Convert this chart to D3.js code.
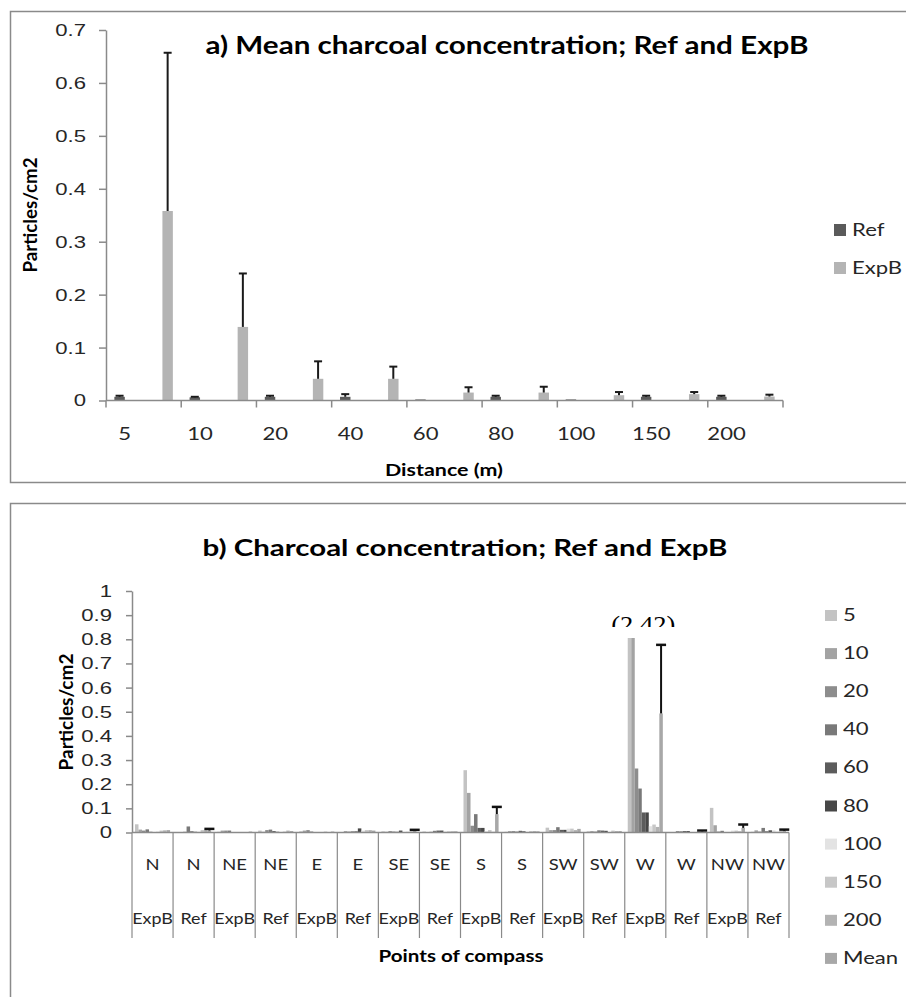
<!DOCTYPE html>
<html>
<head>
<meta charset="utf-8">
<script src="https://cdn.jsdelivr.net/npm/d3@7"></script>
<style>
body { margin: 0; background: #fff; }
svg { display: block; font-family: Lato, "Open Sans", sans-serif; }
</style>
</head>
<body>
<div></div>
<script>
var width = 906;
var height = 997;

// ---- panel a) mean charcoal concentration
var distances = ["5", "10", "20", "40", "60", "80", "100", "150", "200"];
var refMean  = [0.007, 0.006, 0.007, 0.007, 0.002, 0.007, 0.002, 0.007, 0.007];
var refErr   = [0.009, 0.007, 0.009, 0.012, null, 0.009, null, 0.009, 0.009];
var expbMean = [0.358, 0.139, 0.041, 0.041, 0.015, 0.015, 0.010, 0.012, 0.0075];
var expbErr  = [0.657, 0.240, 0.074, 0.064, 0.025, 0.026, 0.016, 0.016, 0.011];
var yTicksA  = [0, 0.1, 0.2, 0.3, 0.4, 0.5, 0.6, 0.7];

// ---- panel b) charcoal concentration per point of compass
var compass = ["N", "N", "NE", "NE", "E", "E", "SE", "SE", "S", "S", "SW", "SW", "W", "W", "NW", "NW"];
var site    = ["ExpB", "Ref", "ExpB", "Ref", "ExpB", "Ref", "ExpB", "Ref", "ExpB", "Ref", "ExpB", "Ref", "ExpB", "Ref", "ExpB", "Ref"];
var seriesB = ["5", "10", "20", "40", "60", "80", "100", "150", "200", "Mean"];
var s5    = [0.034, 0.002, 0.003, 0.008, 0.005, 0.002, 0.005, 0.004, 0.258, 0.003, 0.020, 0.005, 2.42, 0.002, 0.102, 0.003];
var s10   = [0.012, 0.002, 0.008, 0.003, 0.008, 0.006, 0.003, 0.002, 0.164, 0.006, 0.010, 0.006, 1.33, 0.001, 0.030, 0.009];
var s20   = [0.008, 0.003, 0.008, 0.010, 0.010, 0.004, 0.006, 0.003, 0.028, 0.006, 0.010, 0.004, 0.265, 0.006, 0.004, 0.004];
var s40   = [0.013, 0.025, 0.008, 0.012, 0.004, 0.005, 0.004, 0.007, 0.076, 0.004, 0.022, 0.009, 0.182, 0.005, 0.007, 0.019];
var s60   = [0.003, 0.005, 0.002, 0.006, 0.001, 0.005, 0.003, 0.008, 0.019, 0.007, 0.011, 0.008, 0.083, 0.006, 0.002, 0.005];
var s80   = [0.001, 0.003, 0.001, 0.003, 0.001, 0.017, 0.008, 0.008, 0.019, 0.005, 0.011, 0.007, 0.083, 0.006, 0.002, 0.009];
var s100  = [0.004, 0.003, 0.001, 0.002, 0.001, 0.008, 0.002, 0.004, 0.005, 0.003, 0.016, 0.002, 0.026, 0.001, 0.008, 0.009];
var s150  = [0.008, 0.010, 0.002, 0.004, 0.004, 0.010, 0.003, 0.005, 0.010, 0.006, 0.016, 0.008, 0.033, 0.002, 0.008, 0.003];
var s200  = [0.009, 0.012, 0.002, 0.008, 0.002, 0.010, 0.004, 0.005, 0.003, 0.006, 0.010, 0.006, 0.023, 0.004, 0.005, 0.005];
var sMean = [0.010, 0.008, 0.004, 0.006, 0.004, 0.008, 0.006, 0.005, 0.076, 0.005, 0.015, 0.006, 0.493, 0.004, 0.019, 0.007];
var meanErr = [null, 0.015, null, null, null, null, 0.011, null, 0.106, null, null, null, 0.777, 0.008, 0.033, 0.012];
var yTicksB = [0, 0.1, 0.2, 0.3, 0.4, 0.5, 0.6, 0.7, 0.8, 0.9, 1];
var cutAt = 0.805;   // bars are cut off here in the original figure

var colorsB = ["#c3c3c3", "#a3a3a3", "#8d8d8d", "#797979", "#5c5c5c", "#474747", "#e3e3e3", "#c7c7c7", "#b3b3b3", "#a8a8a8"];
var colorsA = {"Ref": "#5a5a5a", "ExpB": "#b4b4b4"};

var svg = d3.select("div")
	.append("svg")
	.attr("width", width)
	.attr("height", height);

// the figure is horizontally stretched, so widen every label a bit
function stretch(sel, k) {
	sel.each(function() {
		var w = this.getComputedTextLength();
		d3.select(this).attr("textLength", w * k).attr("lengthAdjust", "spacingAndGlyphs");
	});
}
function fitTo(sel, w) {
	sel.attr("textLength", w).attr("lengthAdjust", "spacingAndGlyphs");
}
var fmt = function(d) { return String(+d.toFixed(1)); };

// panel frames
svg.append("rect")
	.attr("x", 10.5).attr("y", 11.5)
	.attr("width", 930).attr("height", 471)
	.attr("fill", "none").attr("stroke", "#8a8a8a").attr("stroke-width", 1.5);
svg.append("rect")
	.attr("x", 10.5).attr("y", 503.5)
	.attr("width", 930).attr("height", 540)
	.attr("fill", "none").attr("stroke", "#8a8a8a").attr("stroke-width", 1.5);

// ================= panel a =================
var catsA = [];
var rowsA = [];
distances.forEach(function(d, i) {
	catsA.push(d + " Ref", d + " ExpB");
	rowsA.push({cat: d + " Ref", s: "Ref", v: refMean[i], e: refErr[i]});
	rowsA.push({cat: d + " ExpB", s: "ExpB", v: expbMean[i], e: expbErr[i]});
});

var xA = d3.scaleBand().domain(catsA).range([106, 783]);
var xAin = d3.scaleBand().domain(["Ref", "ExpB"]).range([0, xA.bandwidth()]).paddingOuter(0.8);
var yA = d3.scaleLinear().domain([0, 0.7]).range([400.5, 30]);

var gA = svg.append("g");

var yAxisA = gA.append("g")
	.attr("transform", "translate(106,0)")
	.call(d3.axisLeft(yA).tickValues(yTicksA).tickFormat(fmt).tickSize(7).tickSizeOuter(0).tickPadding(13));
yAxisA.selectAll("path, line").attr("stroke", "#8a8a8a").attr("stroke-width", 1.5);
yAxisA.selectAll("text").attr("fill", "#262626").style("font-size", "17px").call(stretch, 1.3);

gA.selectAll("rect.bar")
	.data(rowsA)
	.enter().append("rect")
	.attr("class", "bar")
	.attr("x", function(d) { return xA(d.cat) + xAin(d.s); })
	.attr("y", function(d) { return yA(d.v); })
	.attr("width", xAin.bandwidth())
	.attr("height", function(d) { return yA(0) - yA(d.v); })
	.attr("fill", function(d) { return colorsA[d.s]; });

var errA = gA.selectAll("g.err")
	.data(rowsA.filter(function(d) { return d.e != null; }))
	.enter().append("g")
	.attr("class", "err")
	.attr("transform", function(d) { return "translate(" + (xA(d.cat) + xAin(d.s) + xAin.bandwidth() / 2) + ",0)"; });
errA.append("line")
	.attr("y1", function(d) { return yA(d.v); })
	.attr("y2", function(d) { return yA(d.e); })
	.attr("stroke", "#1a1a1a").attr("stroke-width", 2);
errA.append("line")
	.attr("x1", -4).attr("x2", 4)
	.attr("y1", function(d) { return yA(d.e); })
	.attr("y2", function(d) { return yA(d.e); })
	.attr("stroke", "#1a1a1a").attr("stroke-width", 2);

// x axis of panel a: ticks between pairs of categories
gA.append("line")
	.attr("x1", xA.range()[0]).attr("x2", xA.range()[1])
	.attr("y1", yA(0)).attr("y2", yA(0))
	.attr("stroke", "#8a8a8a").attr("stroke-width", 1.5);
gA.selectAll("line.tick")
	.data(d3.range(0, catsA.length + 1, 2))
	.enter().append("line")
	.attr("class", "tick")
	.attr("x1", function(i) { return xA.range()[0] + i * xA.step(); })
	.attr("x2", function(i) { return xA.range()[0] + i * xA.step(); })
	.attr("y1", yA(0)).attr("y2", yA(0) + 7)
	.attr("stroke", "#8a8a8a").attr("stroke-width", 1.5);
gA.selectAll("text.xlab")
	.data(distances)
	.enter().append("text")
	.attr("class", "xlab")
	.attr("x", function(d) { return xA(d + " Ref") + xA.bandwidth() / 2; })
	.attr("y", 440)
	.attr("text-anchor", "middle")
	.attr("fill", "#262626")
	.style("font-size", "17px")
	.text(function(d) { return d; })
	.call(stretch, 1.3);

gA.append("text")
	.attr("x", 507).attr("y", 54)
	.attr("text-anchor", "middle")
	.style("font-size", "25px").style("font-weight", "bold")
	.text("a) Mean charcoal concentration; Ref and ExpB")
	.call(fitTo, 603);
gA.append("text")
	.attr("transform", "translate(37,215) rotate(-90)")
	.attr("text-anchor", "middle")
	.style("font-size", "18px").style("font-weight", "bold")
	.text("Particles/cm2")
	.call(fitTo, 115);
gA.append("text")
	.attr("x", 444).attr("y", 476)
	.attr("text-anchor", "middle")
	.style("font-size", "17px").style("font-weight", "bold")
	.text("Distance (m)")
	.call(fitTo, 118);

var legA = gA.selectAll("g.leg")
	.data(["Ref", "ExpB"])
	.enter().append("g")
	.attr("class", "leg")
	.attr("transform", function(d, i) { return "translate(834," + (224 + i * 38) + ")"; });
legA.append("rect").attr("width", 12).attr("height", 12).attr("fill", function(d) { return colorsA[d]; });
legA.append("text")
	.attr("x", 18).attr("y", 12)
	.attr("fill", "#262626")
	.style("font-size", "17px")
	.text(function(d) { return d; })
	.call(stretch, 1.3);

// ================= panel b =================
var valuesB = [s5, s10, s20, s40, s60, s80, s100, s150, s200, sMean];
var rowsB = [];
compass.forEach(function(c, i) {
	seriesB.forEach(function(s, j) {
		rowsB.push({i: i, s: s, j: j, v: valuesB[j][i], e: s === "Mean" ? meanErr[i] : null});
	});
});

var xB = d3.scaleBand().domain(d3.range(compass.length)).range([132, 789]);
var xBin = d3.scaleBand().domain(seriesB).range([0, xB.bandwidth()]).paddingOuter(0.85);
var yB = d3.scaleLinear().domain([0, 1]).range([832.5, 591]);

var gB = svg.append("g");

gB.append("clipPath").attr("id", "cutB")
	.append("rect")
	.attr("x", 100).attr("y", yB(cutAt))
	.attr("width", 720).attr("height", yB(0) - yB(cutAt) + 2);
gB.append("clipPath").attr("id", "cutLabel")
	.append("rect")
	.attr("x", 560).attr("y", 590)
	.attr("width", 150).attr("height", 37);

var yAxisB = gB.append("g")
	.attr("transform", "translate(132,0)")
	.call(d3.axisLeft(yB).tickValues(yTicksB).tickFormat(fmt).tickSize(6).tickSizeOuter(0).tickPadding(14));
yAxisB.selectAll("path, line").attr("stroke", "#8a8a8a").attr("stroke-width", 1.5);
yAxisB.selectAll("text").attr("fill", "#262626").style("font-size", "17px").call(stretch, 1.3);

var barsB = gB.append("g").attr("clip-path", "url(#cutB)");
barsB.selectAll("rect")
	.data(rowsB)
	.enter().append("rect")
	.attr("x", function(d) { return xB(d.i) + xBin(d.s); })
	.attr("y", function(d) { return yB(d.v); })
	.attr("width", xBin.bandwidth())
	.attr("height", function(d) { return yB(0) - yB(d.v); })
	.attr("fill", function(d) { return colorsB[d.j]; });

var errB = gB.selectAll("g.err")
	.data(rowsB.filter(function(d) { return d.e != null; }))
	.enter().append("g")
	.attr("class", "err")
	.attr("transform", function(d) { return "translate(" + (xB(d.i) + xBin(d.s) + xBin.bandwidth() / 2) + ",0)"; });
errB.append("line")
	.attr("y1", function(d) { return yB(d.v); })
	.attr("y2", function(d) { return yB(d.e); })
	.attr("stroke", "#111").attr("stroke-width", 2);
errB.append("line")
	.attr("x1", -5).attr("x2", 5)
	.attr("y1", function(d) { return yB(d.e); })
	.attr("y2", function(d) { return yB(d.e); })
	.attr("stroke", "#111").attr("stroke-width", 2.5);

// value of the cut-off bar
var biggest = d3.maxIndex(s5);
gB.append("text")
	.attr("clip-path", "url(#cutLabel)")
	.attr("x", xB(biggest) + xB.bandwidth() / 2 - 2)
	.attr("y", 632)
	.attr("text-anchor", "middle")
	.style("font-family", "'Liberation Serif', 'DejaVu Serif', serif")
	.style("font-size", "23px")
	.text("(" + s5[biggest] + ")")
	.call(fitTo, 64);

// x axis of panel b: two label rows separated by dividers
gB.append("line")
	.attr("x1", xB.range()[0]).attr("x2", xB.range()[1])
	.attr("y1", yB(0)).attr("y2", yB(0))
	.attr("stroke", "#8a8a8a").attr("stroke-width", 1.5);
gB.selectAll("line.div")
	.data(d3.range(compass.length + 1))
	.enter().append("line")
	.attr("class", "div")
	.attr("x1", function(i) { return xB.range()[0] + i * xB.step(); })
	.attr("x2", function(i) { return xB.range()[0] + i * xB.step(); })
	.attr("y1", yB(0)).attr("y2", 938)
	.attr("stroke", "#8a8a8a").attr("stroke-width", 1.2);
gB.selectAll("text.comp")
	.data(compass)
	.enter().append("text")
	.attr("class", "comp")
	.attr("x", function(d, i) { return xB(i) + xB.bandwidth() / 2; })
	.attr("y", 870)
	.attr("text-anchor", "middle")
	.attr("fill", "#262626")
	.style("font-size", "16px")
	.text(function(d) { return d; })
	.call(stretch, 1.15);
gB.selectAll("text.site")
	.data(site)
	.enter().append("text")
	.attr("class", "site")
	.attr("x", function(d, i) { return xB(i) + xB.bandwidth() / 2; })
	.attr("y", 924)
	.attr("text-anchor", "middle")
	.attr("fill", "#262626")
	.style("font-size", "16px")
	.text(function(d) { return d; })
	.call(stretch, 1.12);

gB.append("text")
	.attr("x", 465).attr("y", 556)
	.attr("text-anchor", "middle")
	.style("font-size", "23px").style("font-weight", "bold")
	.text("b) Charcoal concentration; Ref and ExpB")
	.call(fitTo, 525);
gB.append("text")
	.attr("transform", "translate(73,712) rotate(-90)")
	.attr("text-anchor", "middle")
	.style("font-size", "18px").style("font-weight", "bold")
	.text("Particles/cm2")
	.call(fitTo, 117);
gB.append("text")
	.attr("x", 461).attr("y", 962)
	.attr("text-anchor", "middle")
	.style("font-size", "17px").style("font-weight", "bold")
	.text("Points of compass")
	.call(fitTo, 165);

var legB = gB.selectAll("g.leg")
	.data(seriesB)
	.enter().append("g")
	.attr("class", "leg")
	.attr("transform", function(d, i) { return "translate(825," + (610 + i * 38.1) + ")"; });
legB.append("rect").attr("width", 12).attr("height", 11).attr("fill", function(d, i) { return colorsB[i]; });
legB.append("text")
	.attr("x", 18).attr("y", 11)
	.attr("fill", "#262626")
	.style("font-size", "17px")
	.text(function(d) { return d; })
	.call(stretch, 1.3);
</script>
</body>
</html>
